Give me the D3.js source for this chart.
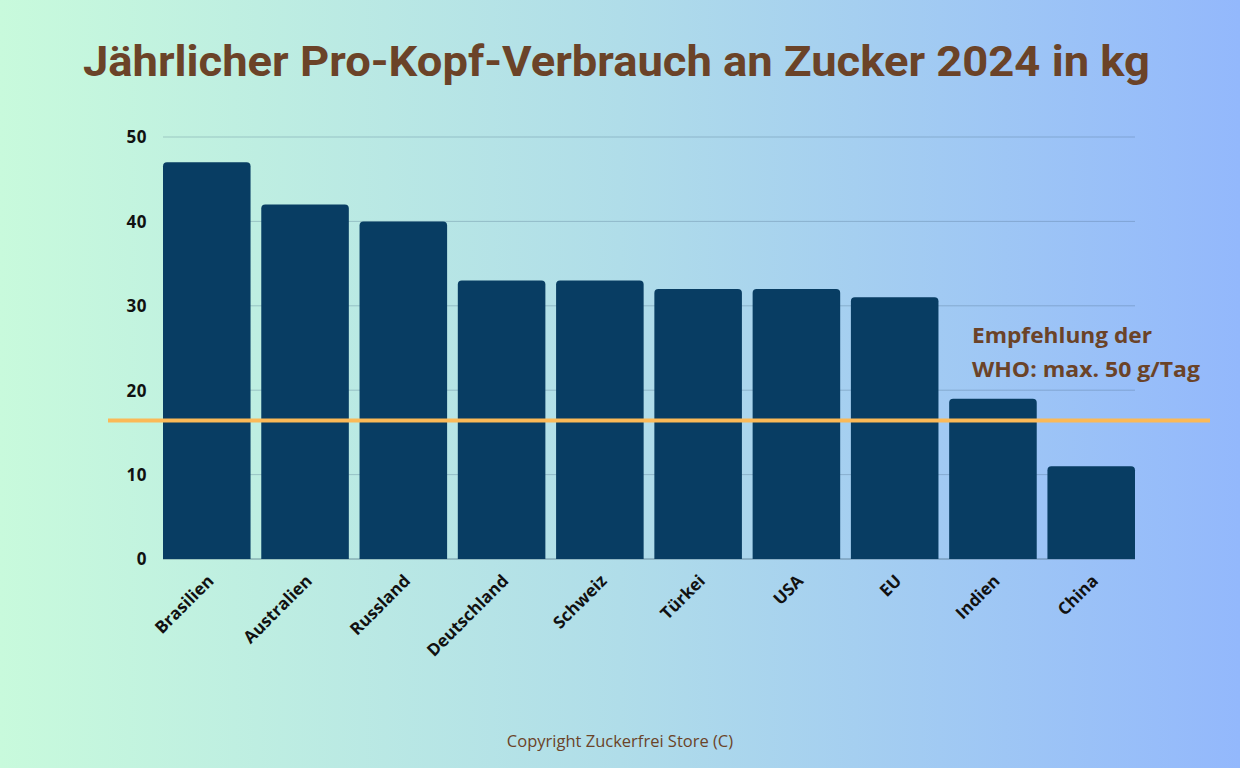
<!DOCTYPE html>
<html><head><meta charset="utf-8">
<script src="https://cdn.jsdelivr.net/npm/d3@7"></script>
<style>html,body{margin:0;padding:0;overflow:hidden;}</style>
</head><body>
<script>
const categories = ["Brasilien","Australien","Russland","Deutschland","Schweiz","Türkei","USA","EU","Indien","China"];
const values = [47,42,40,33,33,32,32,31,19,11];
const yTicks = [0,10,20,30,40,50];
const whoLimit = 16.4;
const titleText = "Jährlicher Pro-Kopf-Verbrauch an Zucker 2024 in kg";
const annotationLines = ["Empfehlung der","WHO: max. 50 g/Tag"];
const copyrightText = "Copyright Zuckerfrei Store (C)";

const W = 1240, H = 768;
const svg = d3.select("body").append("svg").attr("width", W).attr("height", H);
const defs = svg.append("defs");
const grad = defs.append("linearGradient").attr("id","bg").attr("x1","0").attr("x2","1").attr("y1","0").attr("y2","0");
grad.append("stop").attr("offset","0").attr("stop-color","#c8fadc");
grad.append("stop").attr("offset","0.5").attr("stop-color","#b0dde9");
grad.append("stop").attr("offset","1").attr("stop-color","#93b8fc");
svg.append("rect").attr("width",W).attr("height",H).attr("fill","url(#bg)");

const x = d3.scaleBand().domain(categories).range([163,1135]).paddingInner(0.109).paddingOuter(0);
const y = d3.scaleLinear().domain([0,50]).range([559,137]);

// gridlines
svg.append("g").selectAll("line").data(yTicks).join("line")
  .attr("x1",163).attr("x2",1135).attr("y1",d=>y(d)).attr("y2",d=>y(d))
  .attr("stroke", d=> d===0 ? "rgba(60,90,110,0.6)" : "rgba(70,100,130,0.3)").attr("stroke-width",1);

// y axis labels
const yAxis = d3.axisLeft(y).tickValues(yTicks).tickSize(0).tickPadding(0);
const gy = svg.append("g").attr("transform","translate(147,0)").call(yAxis);
gy.select(".domain").remove();
gy.selectAll("text").attr("font-family","'Open Sans', sans-serif").attr("font-weight","700")
  .attr("font-size","17px").attr("fill","#111").attr("dy","0.35em").attr("letter-spacing","0.5px");

// bars with rounded top
const r = 4;
svg.append("g").selectAll("path").data(values).join("path")
  .attr("fill","#083d63")
  .attr("d",(d,i)=>{
    const x0 = x(categories[i]), w = x.bandwidth(), y0 = y(d), yb = y(0);
    return `M${x0},${yb}V${y0+r}Q${x0},${y0} ${x0+r},${y0}H${x0+w-r}Q${x0+w},${y0} ${x0+w},${y0+r}V${yb}Z`;
  });

// x labels
const xAxis = d3.axisBottom(x).tickSize(0).tickPadding(0);
const gx = svg.append("g").attr("transform","translate(0,559)").call(xAxis);
gx.select(".domain").remove();
gx.selectAll("text")
  .attr("font-family","'Open Sans', sans-serif").attr("font-weight","700")
  .attr("font-size","17px").attr("fill","#111")
  .attr("text-anchor","end").attr("dy",null).attr("y",0)
  .attr("transform","translate(8,23) rotate(-45)");

// WHO line
svg.append("line").attr("x1",108).attr("x2",1210).attr("y1",y(whoLimit)).attr("y2",y(whoLimit))
  .attr("stroke","#fbb957").attr("stroke-width",4);

// annotation
const annLen = [180, 228];
svg.append("g").selectAll("text").data(annotationLines).join("text")
  .attr("x",972).attr("y",(d,i)=>343+i*33.5)
  .attr("font-family","'Open Sans', sans-serif").attr("font-weight","700")
  .attr("font-size","21px").attr("fill","#6b4328")
  .attr("textLength",(d,i)=>annLen[i]).attr("lengthAdjust","spacingAndGlyphs")
  .text(d=>d);

// title
svg.append("text").attr("x",83).attr("y",76)
  .attr("font-family","Roboto, sans-serif").attr("font-weight","700")
  .attr("font-size","43px").attr("fill","#6b4328")
  .attr("textLength",1067).attr("lengthAdjust","spacingAndGlyphs")
  .text(titleText);

// copyright
svg.append("text").attr("x",620).attr("y",747).attr("text-anchor","middle")
  .attr("font-family","'Open Sans', sans-serif").attr("font-size","16.5px").attr("fill","#6b4328")
  .text(copyrightText);
</script>
</body></html>
